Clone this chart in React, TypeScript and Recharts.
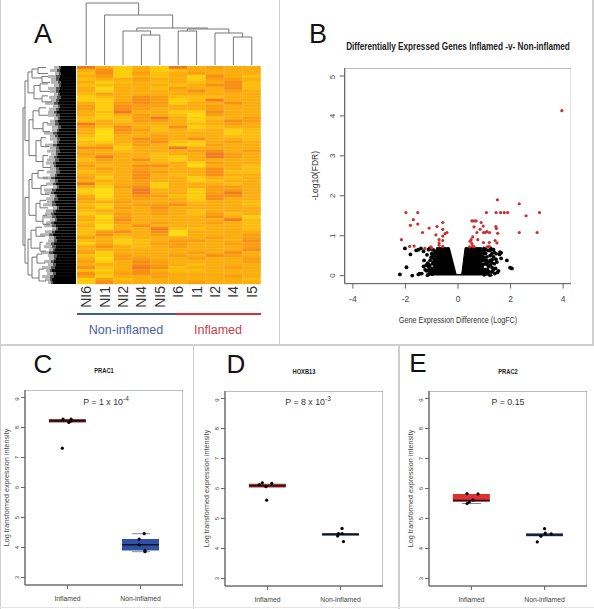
import React from "react";
import { Area, Bar, BarChart, Cell, ComposedChart, ReferenceArea, Scatter, XAxis, YAxis } from "recharts";

const FONT = "'Liberation Sans', Arial, sans-serif";

// panel A: heatmap, one string per gene row, one digit per sample (0 yellow .. 6 red-orange)
const samples = ["NI6", "NI1", "NI2", "NI4", "NI5", "I6", "I1", "I2", "I4", "I5"];
const heatRows = [
  "6313163433", "3513123333", "2514234333", "3413231532", "2334331443", "3123232352", "2233323552",
  "3033243352", "3133335343", "2433333333", "1235422233", "1135412633", "3145413353", "4154433433",
  "4154333433", "3263311533", "3134320433", "2124631234", "2324431354", "6333332343", "4253251233",
  "3054232312", "3043333312", "2033433322", "1035435332", "2134521343", "2324311433", "5513363333",
  "3323334534", "4333233643", "3633213643", "2435213333", "3333331433", "4235530332", "3434333532",
  "2335433522", "3235323533", "4135331323", "3334331233", "6234133323", "3145133443", "1036331443",
  "1036331463", "3035421553", "4134331533", "3343332332", "2134453332", "3143533333", "2333432333",
  "1243432423", "3043333531", "3153333362", "2143433432", "3035333332", "2033622332", "2453503333",
  "2533403334", "4323333434", "2312344335", "1312443344", "3532343334", "3333333335", "4133334353",
  "2143343543", "3044334334", "4135433334", "3335432333", "5236523343", "2135322333", "5245433333",
  "4133433343", "1423333332", "1533334333",
];
const heatColors = ["#ffdc0e", "#fecd0c", "#fdbd0c", "#fcae0e", "#fa9f10", "#f79014", "#f07c20"];

// panel A: column dendrogram, [x1, x2, top, left foot, right foot]
const colTree = [
  [3.5, 4.5, 30, 0, 0],
  [2.5, 4, 34, 0, 30],
  [8.5, 9.5, 28, 0, 0],
  [7.5, 9, 32, 0, 28],
  [5.5, 6.5, 34, 0, 0],
  [6, 8.25, 36, 34, 32],
  [3.25, 7.1, 37, 34, 36],
  [1.5, 5.2, 50, 0, 37],
  [0.5, 3.35, 62, 0, 50],
];

// panel A: row dendrogram, leaf fringe per row and [height, row1, row2, height1, height2] brackets
const leafBlack = [15, 16, 15, 16, 17, 15, 15, 16, 17, 16, 15, 17, 18, 16, 17, 19, 16, 16, 18, 17, 15, 17, 19, 18, 16, 17, 19, 17, 16, 18, 19, 17, 20, 20, 17, 16, 19, 21, 18, 20, 17, 20, 22, 19, 18, 21, 20, 17, 20, 22, 20, 19, 22, 20, 18, 21, 23, 20, 19, 22, 20, 21, 23, 19, 20, 22, 20, 21, 24, 20, 22, 24, 23];
const leafDark = [2, 3, 2, 4, 3, 3, 2, 4, 3, 2, 4, 3, 4, 2, 3, 3, 4, 2, 3, 4, 3, 2, 4, 3, 3, 2, 4, 3, 4, 2, 3, 4, 3, 2, 3, 4, 2, 4, 3, 3, 2, 4, 3, 2, 4, 3, 4, 2, 3, 3, 4, 2, 3, 4, 2, 3, 4, 2, 3, 3, 4, 2, 4, 3, 2, 3, 3, 4, 2, 3, 4, 2, 2];
const leafGray = [5, 7, 4, 8, 5, 7, 5, 8, 6, 4, 8, 5, 9, 5, 7, 6, 8, 4, 5, 8, 6, 5, 9, 5, 7, 4, 8, 6, 9, 5, 5, 8, 7, 4, 6, 9, 5, 8, 5, 7, 4, 8, 6, 5, 8, 5, 9, 4, 7, 6, 8, 5, 5, 8, 4, 7, 9, 5, 6, 5, 8, 4, 8, 6, 5, 7, 5, 9, 4, 6, 8, 5, 3];
const rowTree = [
  [53, 14, 60, 51, 51],
  [51, 5, 25, 48, 47],
  [48, 2, 9, 44, 42],
  [44, 1, 4, 38, 34],
  [38, 0.5, 2.5, 30, 28],
  [34, 3.5, 5.5, 28, 26],
  [42, 6.5, 11, 36, 34],
  [36, 6, 8.5, 28, 26],
  [34, 10, 12, 28, 24],
  [47, 18, 30, 43, 40],
  [43, 15, 21, 37, 33],
  [37, 14, 16.5, 30, 28],
  [33, 19, 22, 28, 26],
  [40, 25, 32, 35, 33],
  [35, 24, 27, 30, 27],
  [33, 30, 34, 28, 25],
  [51, 44, 66, 47, 48],
  [47, 38, 50, 44, 40],
  [44, 36, 41, 38, 35],
  [38, 35, 37.5, 32, 28],
  [35, 40, 43, 29, 27],
  [40, 46, 52, 36, 33],
  [36, 45, 47.5, 30, 28],
  [33, 50, 53, 29, 26],
  [48, 58, 70, 45, 44],
  [45, 55, 61, 40, 36],
  [40, 54, 57, 34, 31],
  [36, 59, 62, 33, 30],
  [44, 64, 71, 39, 37],
  [39, 63, 66, 34, 31],
  [37, 68, 72, 32, 30],
];

// panel B: volcano plot
const volcanoTicksX = [-4, -2, 0, 2, 4];
const volcanoTicksY = [0, 1, 2, 3, 4, 5];
const coreEnvelope = [
  { x: -1.22, y: 0 }, { x: -1.12, y: 0.04 }, { x: -0.96, y: 0.07 }, { x: -0.86, y: 0.3 }, { x: -0.82, y: 0.7 }, { x: -0.33, y: 0.7 }, { x: -0.07, y: 0.03 },
  { x: 0.14, y: 0.03 }, { x: 0.27, y: 0.7 }, { x: 0.9, y: 0.7 }, { x: 0.92, y: 0.3 }, { x: 1.02, y: 0.08 }, { x: 1.2, y: 0.04 }, { x: 1.32, y: 0 },
];
const volcanoBlack = [
  [-2.02, 0.68], [-1.81, 0.53], [-1.59, 0.63], [-1.5, 0.65], [-1.41, 0.68], [-1.31, 0.61], [-1.12, 0.65], [-1.08, 0.68],
  [-1.96, 0.21], [-2.21, 0.03], [-1.74, 0], [-1.51, 0.03], [-1.46, 0.05], [-1.38, 0.05], [-1.29, 0.38], [-1.21, 0.26],
  [-1.31, 0.23], [-1.12, 0.22], [-1.06, 0.11], [-1.16, 0.01], [-1.0, 0.55], [-0.93, 0.51], [-1.06, 0.38], [-0.96, 0.3],
  [-0.87, 0.38], [-1.0, 0.18], [-0.84, 0.47], [-0.88, 0.26], [-0.91, 0.09], [-0.98, 0.04], [-1.1, 0.04], [-1.2, 0.12],
  [-0.92, 0.42], [-1.02, 0.46], [-0.98, 0.65], [-1.15, 0.31], [-0.88, 0.6], [-0.9, 0.2], [-0.94, 0.34], [-1.08, 0.26],
  [-1.03, 0.08], [-1.25, 0.15], [-0.88, 0.14], [-1.1, 0.15], [-0.86, 0.55], [-0.92, 0.64], [-1.18, 0.52], [-0.95, 0.12],
  [1.22, 0.63], [1.35, 0.65], [1.6, 0.59], [1.64, 0.57], [1.58, 0.53], [1.86, 0.38], [1.64, 0.43], [1.98, 0.2], [2.05, 0.18],
  [1.54, 0.12], [1.5, 0.08], [1.38, 0.3], [1.22, 0.38], [1.16, 0.22], [1.29, 0.09], [1.1, 0.47], [0.97, 0.55], [1.03, 0.3],
  [0.93, 0.18], [1.1, 0.05], [1.22, 0.01], [1.35, 0.47], [1.45, 0.55], [0.96, 0.38], [1.48, 0.34], [1.29, 0.55], [1.16, 0.63],
  [0.97, 0.63], [1.06, 0.65], [1.3, 0.2], [1.05, 0.15], [1.18, 0.1], [1.0, 0.02], [1.1, 0.28], [1.4, 0.05], [1.3, 0.4], [1.05, 0.56],
  [0.96, 0.47], [0.95, 0.27], [1.0, 0.44], [1.15, 0.34], [1.24, 0.27], [1.34, 0.14], [1.43, 0.18], [1.22, 0.5], [1.38, 0.58],
  [1.02, 0.12], [1.12, 0.14], [1.27, 0.33], [1.08, 0.38], [1.44, 0.41], [0.99, 0.68], [1.25, 0.68],
].map(([x, y]) => ({ x, y }));
const volcanoRed = [
  [-1.98, 1.58], [-1.53, 1.58], [-2.15, 0.9], [-1.81, 1.26], [-1.7, 1.4], [-1.53, 1.29], [-1.35, 1.08], [-1.84, 0.73], [-1.67, 0.74],
  [-1.1, 1.19], [-0.84, 1.02], [-0.8, 1.23], [-0.58, 1.33], [-0.58, 1.16], [-0.58, 0.99], [-0.42, 1.08], [-0.49, 1.05], [-0.72, 0.9],
  [-0.58, 0.88], [-0.72, 0.82], [-0.72, 0.76], [-0.58, 0.73], [-1.03, 0.72], [-1.26, 0.68], [-1.0, 0.69],
  [3.95, 4.13], [2.33, 1.8], [1.5, 1.9], [3.1, 1.58], [2.59, 1.5], [1.08, 1.58], [1.45, 1.58], [1.62, 1.58], [1.76, 1.58], [1.89, 1.58],
  [0.53, 1.37], [0.61, 1.37], [0.69, 1.37], [0.88, 1.33], [0.96, 1.24], [0.61, 1.22], [0.84, 1.16], [0.72, 1.08], [0.97, 1.08], [1.1, 1.1],
  [1.2, 1.08], [1.44, 1.23], [1.46, 1.18], [1.51, 1.06], [2.33, 1.08], [3.01, 1.08], [1.03, 1.08], [1.41, 0.88], [1.48, 0.82], [1.19, 0.83],
  [0.97, 0.83], [0.75, 0.9], [0.56, 0.97], [0.5, 0.9], [0.46, 0.86], [0.53, 0.8], [0.56, 0.74], [0.44, 0.72], [0.61, 0.72], [1.11, 0.72], [1.19, 0.73],
].map(([x, y]) => ({ x, y }));

// panels C, D, E: box plots
const boxTicksY = [3, 4, 5, 6, 7, 8, 9];
const yLabel = "Log transformed expression intensity";

const prac1Boxes = [
  { name: "Inflamed", box: [8.17, 8.28], mid: 8.22, fill: "#a5302c" },
  { name: "Non-inflamed", box: [3.9, 4.28], mid: 4.09, fill: "#2f52a8" },
];
const prac1Caps = [[1.88, 2.13, 4.46], [1.88, 2.13, 3.86]];
const prac1Points = [[0.94, 8.28], [1.05, 8.28], [1.02, 8.17], [1.05, 8.22], [0.93, 7.31], [2.05, 4.46], [1.98, 4.28], [1.98, 4.09], [2.06, 3.9], [2.06, 3.86]];

const hoxb13Boxes = [
  { name: "Inflamed", box: [6.03, 6.16], mid: 6.09, fill: "#b02f35" },
  { name: "Non-inflamed", box: [4.43, 4.51], mid: 4.47, fill: "#27357a" },
];
const hoxb13Caps: number[][] = [];
const hoxb13Points = [[0.93, 6.19], [1.06, 6.17], [0.98, 6.06], [0.89, 6.13], [0.99, 5.61], [2.02, 4.67], [1.97, 4.5], [2.02, 4.5], [1.96, 4.42], [2.04, 4.23]];

const prac2Boxes = [
  { name: "Inflamed", box: [5.56, 5.82], mid: 5.6, fill: "#df3230" },
  { name: "Non-inflamed", box: [4.41, 4.51], mid: 4.45, fill: "#3f4f96" },
];
const prac2Caps = [[0.87, 1.13, 5.5]];
const prac2Points = [[0.94, 5.83], [1.09, 5.82], [1.02, 5.62], [0.97, 5.55], [0.94, 5.5], [2.0, 4.66], [2.01, 4.51], [2.09, 4.49], [1.95, 4.41], [1.9, 4.22]];

const noDot = () => <g />;

function Label({ x, y, size, children, color = "#222", bold, rotate, squeeze }: any) {
  return (
    <div
      style={{
        position: "absolute",
        left: x,
        top: y,
        fontFamily: FONT,
        fontSize: size,
        fontWeight: bold ? "bold" : "normal",
        color,
        whiteSpace: "nowrap",
        lineHeight: 1,
        transform: `translate(-50%, -50%)${rotate ? ` rotate(${rotate}deg)` : ""}${squeeze ? ` scaleX(${squeeze})` : ""}`,
      }}
    >
      {children}
    </div>
  );
}

function Rule({ x, y, w, h, color = "#cfcfcf" }: any) {
  return <div style={{ position: "absolute", left: x, top: y, width: w, height: h, background: color }} />;
}

function RotatedYTick({ x, y, payload, fontSize, dx }: any) {
  return (
    <text x={x + dx} y={y} fontSize={fontSize} fontFamily={FONT} fill="#444" textAnchor="middle" transform={`rotate(-90 ${x + dx} ${y})`}>
      {payload.value}
    </text>
  );
}

function SampleTick({ x, y, payload }: any) {
  return (
    <text x={x + 5} y={y - 6} fontSize={14} fontFamily={FONT} fill="#333" textAnchor="end" transform={`rotate(-90 ${x + 5} ${y - 6})`}>
      {payload.value}
    </text>
  );
}

function Heatmap() {
  const columns = samples.map((name) => {
    const row: Record<string, any> = { name };
    heatRows.forEach((_, r) => (row[`r${r}`] = 1));
    return row;
  });
  return (
    <div style={{ position: "absolute", left: 77, top: 66 }}>
      <BarChart width={184} height={248} data={columns} margin={{ top: 0, right: 0, bottom: 0, left: 0 }} barCategoryGap={0}>
        <XAxis dataKey="name" height={30} axisLine={false} tickLine={false} interval={0} tick={SampleTick} />
        <YAxis hide reversed type="number" domain={[0, heatRows.length]} />
        {heatRows.map((row, r) => (
          <Bar key={r} dataKey={`r${r}`} stackId="heat" isAnimationActive={false}>
            {samples.map((_, c) => {
              const fill = heatColors[Number(row[c])];
              return <Cell key={c} fill={fill} stroke={fill} strokeWidth={0.4} />;
            })}
          </Bar>
        ))}
      </BarChart>
    </div>
  );
}

function ColumnTree() {
  return (
    <div style={{ position: "absolute", left: 77, top: 0 }}>
      <ComposedChart width={184} height={65} margin={{ top: 0, right: 0, bottom: 0, left: 0 }}>
        <XAxis hide type="number" dataKey="x" domain={[0, 10]} />
        <YAxis hide type="number" dataKey="y" domain={[0, 65]} />
        {colTree.map(([x1, x2, top, foot1, foot2], i) => (
          <Scatter
            key={i}
            data={[{ x: x1, y: foot1 }, { x: x1, y: top }, { x: x2, y: top }, { x: x2, y: foot2 }]}
            line={{ stroke: "#777", strokeWidth: 1 }}
            shape={noDot}
            isAnimationActive={false}
          />
        ))}
      </ComposedChart>
    </div>
  );
}

function RowTree() {
  const leaves = leafBlack.map((black, i) => ({ row: i, black, dark: leafDark[i], gray: leafGray[i] }));
  return (
    <>
      <div style={{ position: "absolute", left: 14, top: 66 }}>
        <BarChart width={62} height={218} layout="vertical" data={leaves} margin={{ top: 0, right: 0, bottom: 0, left: 0 }} barCategoryGap={0}>
          <XAxis hide reversed type="number" domain={[0, 62]} />
          <YAxis hide type="category" dataKey="row" />
          <Bar dataKey="black" stackId="leaf" fill="#000" isAnimationActive={false} />
          <Bar dataKey="dark" stackId="leaf" fill="#555" isAnimationActive={false} />
          <Bar dataKey="gray" stackId="leaf" fill="#b4b4b4" isAnimationActive={false} />
        </BarChart>
      </div>
      <div style={{ position: "absolute", left: 14, top: 66 }}>
        <ComposedChart width={62} height={218} margin={{ top: 0, right: 0, bottom: 0, left: 0 }}>
          <XAxis hide reversed type="number" dataKey="x" domain={[0, 62]} />
          <YAxis hide reversed type="number" dataKey="y" domain={[0, heatRows.length]} />
          {rowTree.map(([h, r1, r2, h1, h2], i) => (
            <Scatter
              key={i}
              data={[{ x: h1, y: r1 }, { x: h, y: r1 }, { x: h, y: r2 }, { x: h2, y: r2 }]}
              line={{ stroke: "#777", strokeWidth: 1 }}
              shape={noDot}
              isAnimationActive={false}
            />
          ))}
        </ComposedChart>
      </div>
    </>
  );
}

function Volcano() {
  return (
    <div style={{ position: "absolute", left: 300, top: 67.7 }}>
      <ComposedChart width={271.3} height={265} data={coreEnvelope} margin={{ top: 0, right: 0, bottom: 0, left: 0 }}>
        <XAxis
          type="number"
          dataKey="x"
          domain={[-4.31, 4.31]}
          ticks={volcanoTicksX}
          height={49.4}
          allowDataOverflow
          stroke="#666"
          tickSize={5}
          tickMargin={7}
          tick={{ fontSize: 8.5, fontFamily: FONT, fill: "#444" }}
        />
        <YAxis
          type="number"
          dataKey="y"
          domain={[-0.2, 5.2]}
          ticks={volcanoTicksY}
          width={44.7}
          allowDataOverflow
          stroke="#666"
          tickSize={5}
          tick={(p: any) => <RotatedYTick {...p} fontSize={8} dx={-3} />}
          label={{ value: "-Log10(FDR)", angle: -90, position: "insideLeft", offset: 15, fontSize: 8.5, fontFamily: FONT, fill: "#333", style: { textAnchor: "middle" } }}
        />
        <ReferenceArea x1={-4.31} x2={4.31} y1={-0.2} y2={5.2} fill="none" stroke="#777" strokeWidth={1} />
        <Area type="linear" dataKey="y" fill="#000" fillOpacity={1} stroke="#000" strokeWidth={1} isAnimationActive={false} dot={false} />
        <Scatter data={volcanoBlack} isAnimationActive={false} shape={(p: any) => <circle cx={p.cx} cy={p.cy} r={1.9} fill="#000" />} />
        <Scatter data={volcanoRed} isAnimationActive={false} shape={(p: any) => <circle cx={p.cx} cy={p.cy} r={1.6} fill="#c8322f" />} />
      </ComposedChart>
    </div>
  );
}

function BoxPanel({ left, top, boxes, caps, points }: any) {
  const dots = points.map(([x, y]: number[]) => ({ x, y }));
  return (
    <div style={{ position: "absolute", left: left - 25, top }}>
      <ComposedChart width={183} height={219} data={boxes} margin={{ top: 0, right: 0, bottom: 0, left: 0 }}>
        <XAxis
          xAxisId="cat"
          dataKey="name"
          padding={{ left: 5.85, right: 5.85 }}
          height={24}
          stroke="#666"
          tickSize={4}
          tickMargin={7}
          interval={0}
          tick={{ fontSize: 6.8, fontFamily: FONT, fill: "#444" }}
        />
        <XAxis xAxisId="num" hide type="number" dataKey="x" domain={[0.42, 2.58]} />
        <YAxis
          type="number"
          dataKey="y"
          domain={[2.75, 9.25]}
          ticks={boxTicksY}
          width={25}
          allowDataOverflow
          stroke="#666"
          tickSize={4}
          tick={(p: any) => <RotatedYTick {...p} fontSize={6} dx={0} />}
          label={{ value: yLabel, angle: -90, position: "insideLeft", offset: 6, fontSize: 7.2, fontFamily: FONT, fill: "#444", style: { textAnchor: "middle" } }}
        />
        <ReferenceArea xAxisId="num" x1={0.42} x2={2.58} y1={2.75} y2={9.25} fill="none" stroke="#808080" strokeWidth={1} />
        <Bar xAxisId="cat" dataKey="box" barSize={37} isAnimationActive={false}>
          {boxes.map((b: any) => (
            <Cell key={b.name} fill={b.fill} />
          ))}
        </Bar>
        {caps.map(([x1, x2, y]: number[], i: number) => (
          <Scatter key={`cap${i}`} xAxisId="num" data={[{ x: x1, y }, { x: x2, y }]} line={{ stroke: "#888", strokeWidth: 1 }} shape={noDot} isAnimationActive={false} />
        ))}
        {boxes.map((b: any, i: number) => (
          <Scatter
            key={`mid${i}`}
            xAxisId="num"
            data={[{ x: i + 0.75, y: b.mid }, { x: i + 1.25, y: b.mid }]}
            line={{ stroke: "#14141c", strokeWidth: 1.6 }}
            shape={noDot}
            isAnimationActive={false}
          />
        ))}
        <Scatter xAxisId="num" data={dots} isAnimationActive={false} shape={(p: any) => <circle cx={p.cx} cy={p.cy} r={1.6} fill="#000" />} />
      </ComposedChart>
    </div>
  );
}

function PValue({ x, y, base, exp }: any) {
  return (
    <Label x={x} y={y} size={8.8} color="#333">
      {base}
      {exp && <sup style={{ fontSize: 6.5, lineHeight: 0 }}>{exp}</sup>}
    </Label>
  );
}

export default function App() {
  return (
    <div style={{ position: "absolute", left: 0, top: 0, width: 594, height: 609, background: "#fff", overflow: "hidden" }}>
      <Rule x={0} y={0} w={1} h={609} />
      <Rule x={592} y={0} w={1.5} h={344} />
      <Rule x={278.5} y={0} w={1.5} h={344} />
      <Rule x={0} y={344} w={594} h={1.5} />
      <Rule x={192.5} y={344} w={1.5} h={265} />
      <Rule x={398} y={344} w={1.5} h={265} />
      <Rule x={0} y={607} w={594} h={1} color="#e4e4e4" />

      <Label x={43} y={34} size={27} color="#111">A</Label>
      <Label x={318} y={34} size={27} color="#111">B</Label>
      <Label x={43} y={364} size={26} color="#111">C</Label>
      <Label x={236} y={364} size={26} color="#111">D</Label>
      <Label x={418} y={363} size={26} color="#111">E</Label>

      <ColumnTree />
      <RowTree />
      <Heatmap />
      <Rule x={77} y={313} w={99} h={2.2} color="#3e5aa8" />
      <Rule x={176} y={313} w={85} h={2.2} color="#d5303f" />
      <Label x={126} y={330} size={12.5} color="#4a5ea8">Non-inflamed</Label>
      <Label x={218} y={330} size={12.5} color="#c8404f">Inflamed</Label>

      <Label x={458} y={47} size={10} bold squeeze={0.82}>Differentially Expressed Genes Inflamed -v- Non-inflamed</Label>
      <Label x={458} y={320} size={9} color="#333" squeeze={0.8}>Gene Expression Difference (LogFC)</Label>
      <Volcano />

      <Label x={104} y={371} size={8} bold squeeze={0.72}>PRAC1</Label>
      <PValue x={106} y={402} base="P = 1 x 10" exp="-4" />
      <BoxPanel left={25.3} top={390.3} boxes={prac1Boxes} caps={prac1Caps} points={prac1Points} />

      <Label x={304} y={372} size={8} bold squeeze={0.72}>HOXB13</Label>
      <PValue x={308} y={402} base="P = 8 x 10" exp="-3" />
      <BoxPanel left={225} top={391.3} boxes={hoxb13Boxes} caps={hoxb13Caps} points={hoxb13Points} />

      <Label x={508} y={372} size={8} bold squeeze={0.72}>PRAC2</Label>
      <PValue x={508} y={402} base="P = 0.15" />
      <BoxPanel left={428.7} top={391.3} boxes={prac2Boxes} caps={prac2Caps} points={prac2Points} />
    </div>
  );
}
